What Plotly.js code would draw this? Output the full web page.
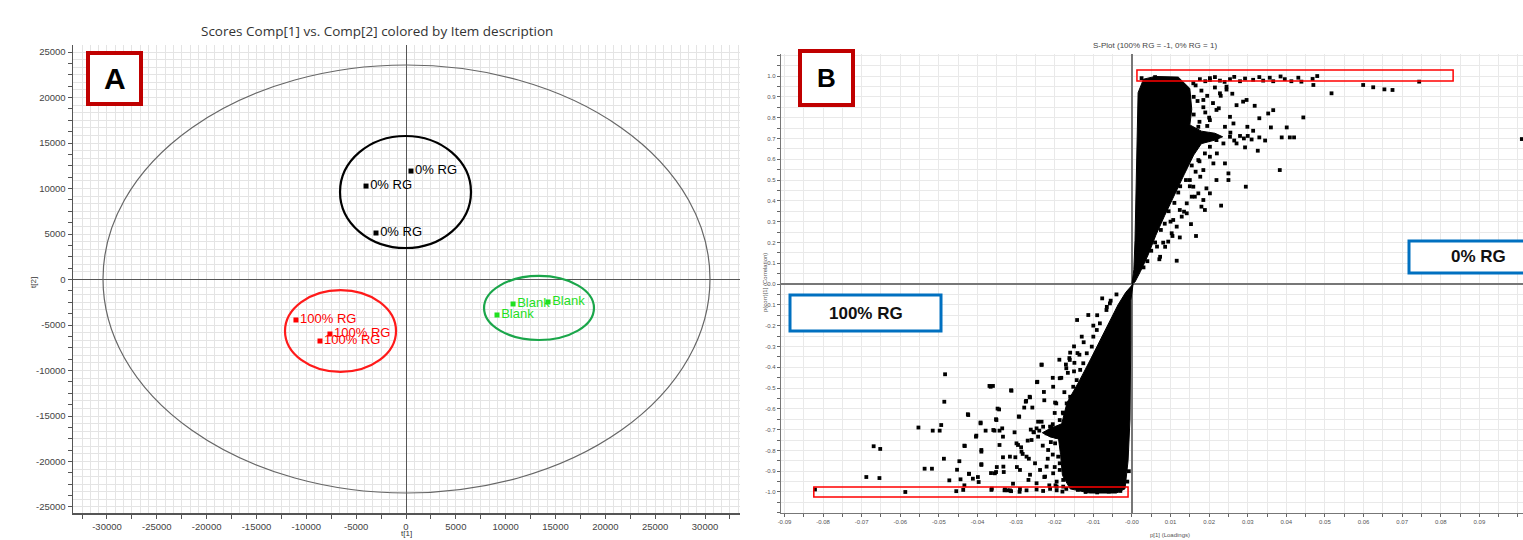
<!DOCTYPE html>
<html>
<head>
<meta charset="utf-8">
<script src="https://cdn.plot.ly/plotly-3.0.1.min.js"></script>
<style>
html,body{margin:0;padding:0;background:#fff;}
#chart{width:1523px;height:540px;}
</style>
</head>
<body>
<div id="chart"></div>
<script>
// ---------- Panel A : PCA scores ----------
const aGroups = ['0% RG', '100% RG', 'Blank'];
const aColors = ['#000000', '#ff0000', '#1fe01f'];
const aScoreX = [
  [500, -4010, -3010],
  [-11040, -7630, -8630],
  [10740, 14250, 9130]
];
const aScoreY = [
  [11920, 10270, 5110],
  [-4450, -5990, -6760],
  [-2690, -2470, -3900]
];
// ellipses: big Hotelling T2 ellipse, then 0% RG, 100% RG, Blank
const ellCX = [50, -50, -6570, 13345];
const ellCY = [55, 9615, -5660, -3130];
const ellRX = [30450, 6570, 5570, 5515];
const ellRY = [23515, 6155, 4500, 3520];
const ellColor = ['#666666', '#000000', '#ff1a1a', '#1aa64a'];
const ellWidth = [1.2, 2.2, 2.2, 2.2];

const aXTickVals = [-32500,-30000,-27500,-25000,-22500,-20000,-17500,-15000,-12500,-10000,-7500,-5000,-2500,0,2500,5000,7500,10000,12500,15000,17500,20000,22500,25000,27500,30000,32500];
const aXTickText = ['','-30000','','-25000','','-20000','','-15000','','-10000','','-5000','','0','','5000','','10000','','15000','','20000','','25000','','30000',''];
const aYLabelVals = [-25000,-20000,-15000,-10000,-5000,0,5000,10000,15000,20000,25000];
const aYLabelText = ['-25000','-20000','-15000','-10000','-5000','0','5000','10000','15000','20000','25000'];

// ---------- Panel B : S-plot ----------
// dense core outlines
const coreUpX = [0.0000,0.0005,0.0008,0.0010,0.0012,0.0013,0.0016,0.0030,0.0060,0.0120,0.0150,0.0155,0.0150,0.0180,0.0215,0.0235,0.0215,0.0180,0.0160,0.0135,0.0110,0.0085,0.0062,0.0042,0.0022,0.0008,0.0000];
const coreUpY = [0.000,0.070,0.210,0.400,0.600,0.780,0.920,0.985,0.998,0.995,0.940,0.840,0.765,0.735,0.725,0.708,0.692,0.675,0.620,0.525,0.430,0.330,0.235,0.140,0.060,0.010,0.000];
const coreLoX = [0.0003,-0.0003,-0.0003,-0.0004,-0.0005,-0.0010,-0.0018,-0.0040,-0.0110,-0.0160,-0.0180,-0.0185,-0.0190,-0.0212,-0.0232,-0.0212,-0.0182,-0.0168,-0.0136,-0.0108,-0.0082,-0.0057,-0.0036,-0.0016,0.0003];
const coreLoY = [0.000,-0.080,-0.270,-0.460,-0.650,-0.850,-0.985,-1.005,-1.005,-0.985,-0.920,-0.820,-0.745,-0.735,-0.715,-0.695,-0.672,-0.570,-0.465,-0.365,-0.270,-0.175,-0.100,-0.040,0.000];

const sX = [
 0.0025,0.0060,0.0176,0.0202,0.0228,0.0254,0.0280,0.0293,0.0314,0.0340,0.0357,0.0366,0.0396,0.0413,0.0431,0.0439,0.0468,0.0480,0.0744,0.0190,0.0215,0.0240,0.0265,0.0330,0.0385,
 0.0470,0.0517,0.0599,0.0625,0.0654,0.0675,0.0444,0.1010,
 0.0409,0.0420,0.0401,0.0388,0.0360,0.0366,0.0353,0.0383,0.0326,0.0330,0.0314,0.0318,0.0295,0.0293,0.0299,0.0297,0.0288,0.0280,0.0271,0.0271,0.0250,0.0250,0.0241,0.0231,0.0219,0.0211,0.0193,0.0185,0.0189,0.0180,0.0166,0.0153,0.0142,0.0135,0.0124,0.0116,0.0105,0.0094,0.0081,0.0071,0.0172,0.0163,0.0202,0.0220,0.0202,0.0241,0.0254,0.0263,
 0.0165,0.0180,0.0195,0.0170,0.0210,0.0185,0.0225,0.0160,0.0200,0.0230,0.0245,0.0215,0.0175,0.0195,0.0260,0.0160,0.0190,
 0.0290,0.0300,0.0310,0.0330,0.0345,0.0265,0.0255,
 0.0145,0.0155,0.0165,0.0140,0.0125,0.0150,0.0175,0.0130,0.0110,0.0120,0.0095,0.0100,0.0075,0.0085,0.0060,0.0050,0.0065,0.0040,0.0030,
 0.0073,0.0086,0.0103,0.0116,0.0129,0.0142,0.0155,0.0124,0.0107,0.0159,0.0177,0.0150,0.0185,0.0172,0.0189,0.0202,0.0219,0.0254,0.0237,0.0172,0.0202,0.0219,0.0185,0.0228,0.0245,0.0159,0.0202,0.0049,0.0032,0.0028,0.0021,
 -0.0821,-0.0587,-0.0688,-0.0654,-0.0669,-0.0652,-0.0553,-0.0516,-0.0498,-0.0494,-0.0484,-0.0486,-0.0487,-0.0537,-0.0518,-0.0473,-0.0455,-0.0453,-0.0447,-0.0434,-0.0425,-0.0444,-0.0434,-0.0422,-0.0412,-0.0403,-0.0399,-0.0397,-0.0392,-0.0390,-0.0390,-0.0379,-0.0369,-0.0360,-0.0365,-0.0363,-0.0356,-0.0352,-0.0350,-0.0352,-0.0348,-0.0343,-0.0343,-0.0336,-0.0334,-0.0334,-0.0332,-0.0330,-0.0322,-0.0313,-0.0313,-0.0308,-0.0304,-0.0302,-0.0298,-0.0293,-0.0291,-0.0287,-0.0283,-0.0279,-0.0274,-0.0270,-0.0267,-0.0265,-0.0264,-0.0258,-0.0254,-0.0243,-0.0246,-0.0234,-0.0231,-0.0227,-0.0228,-0.0227,-0.0218,-0.0214,-0.0205,-0.0205,-0.0199,-0.0198,-0.0188,-0.0183,-0.0179,-0.0171,-0.0166,-0.0162,-0.0149,-0.0141,-0.0136,-0.0032,-0.0036,-0.0030,-0.0032,-0.0041,
 -0.0077,-0.0142,-0.0130,-0.0113,-0.0234,-0.0245,-0.0312,-0.0366,-0.0424,-0.0392,-0.0433,-0.0404,-0.0344,-0.0351,-0.0264,-0.0275,-0.0292,-0.0390,-0.0422,-0.0333,-0.0355,-0.0390,-0.0316,-0.0299,-0.0364,-0.0359,-0.0161,-0.0170,-0.0187,-0.0204,-0.0196,
 -0.0437,-0.0329,-0.0316,-0.0290,-0.0273,-0.0247,-0.0230,-0.0212,-0.0195,-0.0180,-0.0170,
 -0.0295,-0.0286,-0.0273,-0.0260,-0.0251,-0.0238,-0.0225,-0.0217,-0.0290,-0.0268,-0.0247,-0.0208,-0.0195,-0.0187,-0.0230,-0.0243,-0.0221,-0.0204,-0.0187,-0.0178,-0.0195,
 -0.0150,-0.0125,-0.0160,-0.0100,-0.0090,-0.0065,-0.0055,-0.0040,-0.0150,-0.0175,-0.0200,-0.0210,-0.0205,-0.0200,-0.0195,-0.0140,-0.0120,-0.0090,-0.0060,-0.0030,-0.0008,-0.0012,
 -0.0066,-0.0083,-0.0100,-0.0117,-0.0134,-0.0152,-0.0169,-0.0160,-0.0178,-0.0187,-0.0212,-0.0199,-0.0191,-0.0187,-0.0178,-0.0221,-0.0234,-0.0247,-0.0143,-0.0126,-0.0104,-0.0091,-0.0057,-0.0240,-0.0255,-0.0262
];
const sY = [
 0.990,0.995,0.985,0.990,0.978,0.985,0.975,0.988,0.982,0.978,0.992,0.975,0.985,0.975,0.992,0.973,0.986,1.000,0.973,0.975,0.995,0.972,0.996,0.995,0.998,
 0.957,0.917,0.957,0.946,0.936,0.933,0.801,0.697,
 0.705,0.705,0.753,0.705,0.753,0.836,0.820,0.548,0.641,0.797,0.737,0.857,0.468,0.657,0.756,0.885,0.877,0.712,0.676,0.860,0.532,0.500,0.580,0.377,0.500,0.580,0.460,0.404,0.356,0.372,0.231,0.288,0.340,0.348,0.224,0.112,0.231,0.204,0.199,0.119,0.436,0.420,0.436,0.628,0.612,0.756,0.804,0.772,
 0.955,0.930,0.905,0.880,0.870,0.850,0.845,0.815,0.800,0.905,0.935,0.945,0.780,0.760,0.915,0.900,0.825,
 0.700,0.712,0.695,0.705,0.690,0.690,0.728,
 0.610,0.570,0.540,0.500,0.470,0.470,0.590,0.555,0.390,0.440,0.350,0.300,0.260,0.290,0.200,0.160,0.180,0.110,0.080,
 0.131,0.179,0.244,0.276,0.324,0.388,0.420,0.356,0.308,0.468,0.516,0.500,0.548,0.596,0.628,0.660,0.692,0.708,0.676,0.756,0.788,0.837,0.885,0.917,0.949,0.965,0.981,0.981,0.933,0.869,0.804,
 -0.988,-1.000,-0.928,-0.933,-0.780,-0.793,-0.690,-0.705,-0.705,-0.678,-0.434,-0.566,-0.840,-0.888,-0.888,-0.944,-0.996,-0.893,-0.852,-0.777,-0.626,-0.939,-0.968,-0.912,-0.936,-0.729,-0.928,-0.952,-0.666,-0.798,-0.866,-0.705,-0.490,-0.490,-0.909,-0.984,-0.705,-0.650,-0.880,-0.904,-0.599,-0.774,-0.705,-0.694,-0.734,-0.833,-0.904,-0.992,-0.992,-0.511,-0.996,-0.960,-0.713,-0.833,-0.880,-0.637,-0.999,-0.785,-0.817,-0.594,-0.562,-0.753,-0.840,-0.542,-0.917,-0.594,-0.713,-0.662,-0.472,-0.387,-0.777,-0.559,-0.519,-0.928,-0.840,-0.968,-0.451,-0.674,-0.570,-0.968,-0.364,-0.451,-0.618,-0.387,-0.427,-0.356,-0.379,-0.332,-0.340,-0.833,-0.782,-0.901,-0.980,-0.988,
 -0.069,-0.173,-0.253,-0.149,-0.389,-0.470,-0.513,-0.494,-0.630,-0.670,-0.779,-0.734,-0.603,-0.654,-0.545,-0.566,-0.638,-0.806,-0.913,-0.878,-0.910,-0.870,-0.830,-0.766,-0.990,-0.702,-0.365,-0.405,-0.453,-0.494,-0.574,
 -0.990,-0.988,-0.992,-0.985,-0.992,-0.988,-0.995,-0.985,-0.992,-0.998,-0.985,
 -0.774,-0.806,-0.830,-0.750,-0.862,-0.894,-0.926,-0.798,-0.894,-0.942,-0.958,-0.686,-0.734,-0.654,-0.686,-0.734,-0.878,-0.910,-0.862,-0.942,-0.974,
 -0.300,-0.280,-0.330,-0.200,-0.150,-0.110,-0.080,-0.050,-0.420,-0.520,-0.620,-0.760,-0.820,-0.880,-0.950,-0.990,-1.000,-1.002,-0.998,-0.995,-0.900,-0.950,
 -0.125,-0.189,-0.253,-0.333,-0.413,-0.494,-0.574,-0.542,-0.622,-0.702,-0.686,-0.766,-0.830,-0.894,-0.974,-0.718,-0.662,-0.694,-0.462,-0.381,-0.301,-0.221,-0.093,-0.705,-0.712,-0.700
];
// highlighted regions (red boxes): [x0, x1, y0, y1]
const boxTop = [0.0013, 0.0832, 0.976, 1.029];
const boxBottom = [-0.0824, -0.0010, -1.024, -0.976];

const bXTickVals = [-0.09,-0.085,-0.08,-0.075,-0.07,-0.065,-0.06,-0.055,-0.05,-0.045,-0.04,-0.035,-0.03,-0.025,-0.02,-0.015,-0.01,-0.005,0,0.005,0.01,0.015,0.02,0.025,0.03,0.035,0.04,0.045,0.05,0.055,0.06,0.065,0.07,0.075,0.08,0.085,0.09,0.095,0.10];
const bXTickText = ['-0.09','','-0.08','','-0.07','','-0.06','','-0.05','','-0.04','','-0.03','','-0.02','','-0.01','','-0.00','','0.01','','0.02','','0.03','','0.04','','0.05','','0.06','','0.07','','0.08','','0.09','','0.10'];
const bYTickVals = [-1.1,-1.05,-1.0,-0.95,-0.9,-0.85,-0.8,-0.75,-0.7,-0.65,-0.6,-0.55,-0.5,-0.45,-0.4,-0.35,-0.3,-0.25,-0.2,-0.15,-0.1,-0.05,0,0.05,0.1,0.15,0.2,0.25,0.3,0.35,0.4,0.45,0.5,0.55,0.6,0.65,0.7,0.75,0.8,0.85,0.9,0.95,1.0,1.05,1.1];
const bYTickText = ['','','-1.0','','-0.9','','-0.8','','-0.7','','-0.6','','-0.5','','-0.4','','-0.3','','-0.2','','-0.1','','0.0','','0.1','','0.2','','0.3','','0.4','','0.5','','0.6','','0.7','','0.8','','0.9','','1.0','',''];

// ---------- build ----------
const W = 1523, H = 540;
const px = v => v / W;
const py = v => 1 - v / H;

const traces = [];
aGroups.forEach((g, i) => {
  traces.push({
    type: 'scatter', mode: 'markers+text', xaxis: 'x', yaxis: 'y',
    x: aScoreX[i], y: aScoreY[i],
    text: aScoreX[i].map(() => g),
    textposition: 'middle right',
    textfont: {family: 'Arial, "Liberation Sans", sans-serif', size: 13, color: aColors[i]},
    marker: {symbol: 'square', size: 5, color: aColors[i]},
    hoverinfo: 'skip', cliponaxis: false
  });
});
traces.push({type: 'scatter', mode: 'lines', xaxis: 'x2', yaxis: 'y2', x: coreUpX, y: coreUpY,
  fill: 'toself', fillcolor: '#000', line: {color: '#000', width: 1}, hoverinfo: 'skip'});
traces.push({type: 'scatter', mode: 'lines', xaxis: 'x2', yaxis: 'y2', x: coreLoX, y: coreLoY,
  fill: 'toself', fillcolor: '#000', line: {color: '#000', width: 1}, hoverinfo: 'skip'});
traces.push({type: 'scatter', mode: 'markers', xaxis: 'x2', yaxis: 'y2', x: sX, y: sY,
  marker: {symbol: 'square', size: 3.8, color: '#000'}, hoverinfo: 'skip'});

const shapes = [];
ellCX.forEach((cx, i) => {
  shapes.push({type: 'circle', xref: 'x', yref: 'y',
    x0: cx - ellRX[i], x1: cx + ellRX[i], y0: ellCY[i] - ellRY[i], y1: ellCY[i] + ellRY[i],
    line: {color: ellColor[i], width: ellWidth[i]}, layer: 'above'});
});
[boxTop, boxBottom].forEach(b => {
  shapes.push({type: 'rect', xref: 'x2', yref: 'y2', x0: b[0], x1: b[1], y0: b[2], y1: b[3],
    line: {color: '#ff0000', width: 1.5}});
});
// panel letter boxes
shapes.push({type: 'rect', xref: 'paper', yref: 'paper', x0: px(88), x1: px(141), y0: py(104), y1: py(53),
  line: {color: '#c00000', width: 4}, fillcolor: '#fff'});
shapes.push({type: 'rect', xref: 'paper', yref: 'paper', x0: px(800), x1: px(853), y0: py(105), y1: py(51),
  line: {color: '#c00000', width: 4}, fillcolor: '#fff'});
// group label boxes
shapes.push({type: 'rect', xref: 'paper', yref: 'paper', x0: px(790), x1: px(941), y0: py(331), y1: py(295),
  line: {color: '#0070c0', width: 3}, fillcolor: '#fff'});
shapes.push({type: 'rect', xref: 'paper', yref: 'paper', x0: px(1409), x1: px(1550), y0: py(273), y1: py(241),
  line: {color: '#0070c0', width: 3}, fillcolor: '#fff'});

const ann = (x, y, text, size, opts) => Object.assign({xref: 'paper', yref: 'paper', x: px(x), y: py(y),
  text: text, showarrow: false, xanchor: 'center', yanchor: 'middle',
  font: {family: 'Arial, "Liberation Sans", sans-serif', size: size, color: '#333'}}, opts || {});

const annotations = [
  ann(377, 31, 'Scores Comp[1] vs. Comp[2] colored by Item description', 13.5, {font: {family: '"Open Sans", Arial, sans-serif', size: 13.5, color: '#333'}}),
  ann(1155, 45, 'S-Plot (100% RG = -1, 0% RG = 1)', 8, {font: {family: '"Liberation Sans Narrow", Arial, sans-serif', size: 8, color: '#444'}}),
  ann(33, 283, 't[2]', 8, {textangle: -90}),
  ann(406, 533, 't[1]', 8),
  ann(765, 283, 'p(corr)[1] (Correlation)', 6, {textangle: -90, font: {family: 'Arial, sans-serif', size: 6, color: '#555'}}),
  ann(1170, 535, 'p[1] (Loadings)', 6, {font: {family: 'Arial, sans-serif', size: 6, color: '#555'}}),
  ann(114.5, 79, '<b>A</b>', 27, {font: {family: '"Liberation Sans Narrow", Arial, sans-serif', size: 30, color: '#000'}}),
  ann(826.5, 78, '<b>B</b>', 27, {font: {family: 'Arial, "Liberation Sans", sans-serif', size: 26, color: '#000'}}),
  ann(865.5, 313, '<b>100% RG</b>', 17, {font: {family: 'Arial, "Liberation Sans", sans-serif', size: 17, color: '#111'}}),
  ann(1478, 257, '<b>0% RG</b>', 17, {font: {family: 'Arial, "Liberation Sans", sans-serif', size: 17, color: '#111'}})
];

const aYTickVals = [], aYTickText = [];
for (let v = -25000; v <= 25000; v += 1250) {
  aYTickVals.push(v);
  const k = aYLabelVals.indexOf(v);
  aYTickText.push(k >= 0 ? aYLabelText[k] : '');
}

const gridA = '#e4e4e4', gridB = '#e9e9e9';
const layout = {
  width: W, height: H, margin: {l: 0, r: 0, t: 0, b: 0},
  paper_bgcolor: '#fff', plot_bgcolor: '#fff', showlegend: false, hovermode: false,
  xaxis: {domain: [px(73), px(740)], range: [-33410, 33510], anchor: 'y',
    tickmode: 'array', tickvals: aXTickVals, ticktext: aXTickText,
    ticks: 'outside', ticklen: 4, tickcolor: '#555', tickwidth: 1,
    tickfont: {family: 'Arial, sans-serif', size: 9.5, color: '#444'},
    showline: true, linecolor: '#555', linewidth: 1.5, showgrid: false,
    zeroline: true, zerolinecolor: '#555', zerolinewidth: 1,
    minor: {tickmode: 'linear', tick0: 0, dtick: 5000 / 6, showgrid: true, gridcolor: gridA, gridwidth: 1, ticks: ''},
    fixedrange: true},
  yaxis: {domain: [py(513), py(45)], range: [-25660, 25770], anchor: 'x',
    tickmode: 'array', tickvals: aYTickVals, ticktext: aYTickText,
    ticks: 'outside', ticklen: 4, tickcolor: '#555', tickwidth: 1,
    tickfont: {family: 'Arial, sans-serif', size: 9.5, color: '#444'},
    showline: true, linecolor: '#555', linewidth: 1.5, showgrid: false,
    zeroline: true, zerolinecolor: '#555', zerolinewidth: 1,
    minor: {tickmode: 'linear', tick0: 0, dtick: 5000 / 6, showgrid: true, gridcolor: gridA, gridwidth: 1, ticks: ''},
    fixedrange: true},
  xaxis2: {domain: [px(781), 1], range: [-0.0909, 0.1013], anchor: 'y2',
    tickmode: 'array', tickvals: bXTickVals, ticktext: bXTickText,
    ticks: 'outside', ticklen: 3, tickcolor: '#666',
    tickfont: {family: '"Liberation Sans Narrow", Arial, sans-serif', size: 6, color: '#555'},
    showline: true, linecolor: '#777', linewidth: 1.2, showgrid: true, gridcolor: gridB,
    zeroline: true, zerolinecolor: '#777', zerolinewidth: 1.2, fixedrange: true},
  yaxis2: {domain: [py(513), py(54)], range: [-1.101, 1.106], anchor: 'x2',
    tickmode: 'array', tickvals: bYTickVals, ticktext: bYTickText,
    ticks: 'outside', ticklen: 3, tickcolor: '#666',
    tickfont: {family: '"Liberation Sans Narrow", Arial, sans-serif', size: 6, color: '#555'},
    showline: true, linecolor: '#777', linewidth: 1.2, showgrid: true, gridcolor: gridB,
    zeroline: true, zerolinecolor: '#777', zerolinewidth: 1.2, fixedrange: true},
  shapes: shapes,
  annotations: annotations
};

Plotly.newPlot('chart', traces, layout, {displayModeBar: false, staticPlot: true});
</script>
</body>
</html>
